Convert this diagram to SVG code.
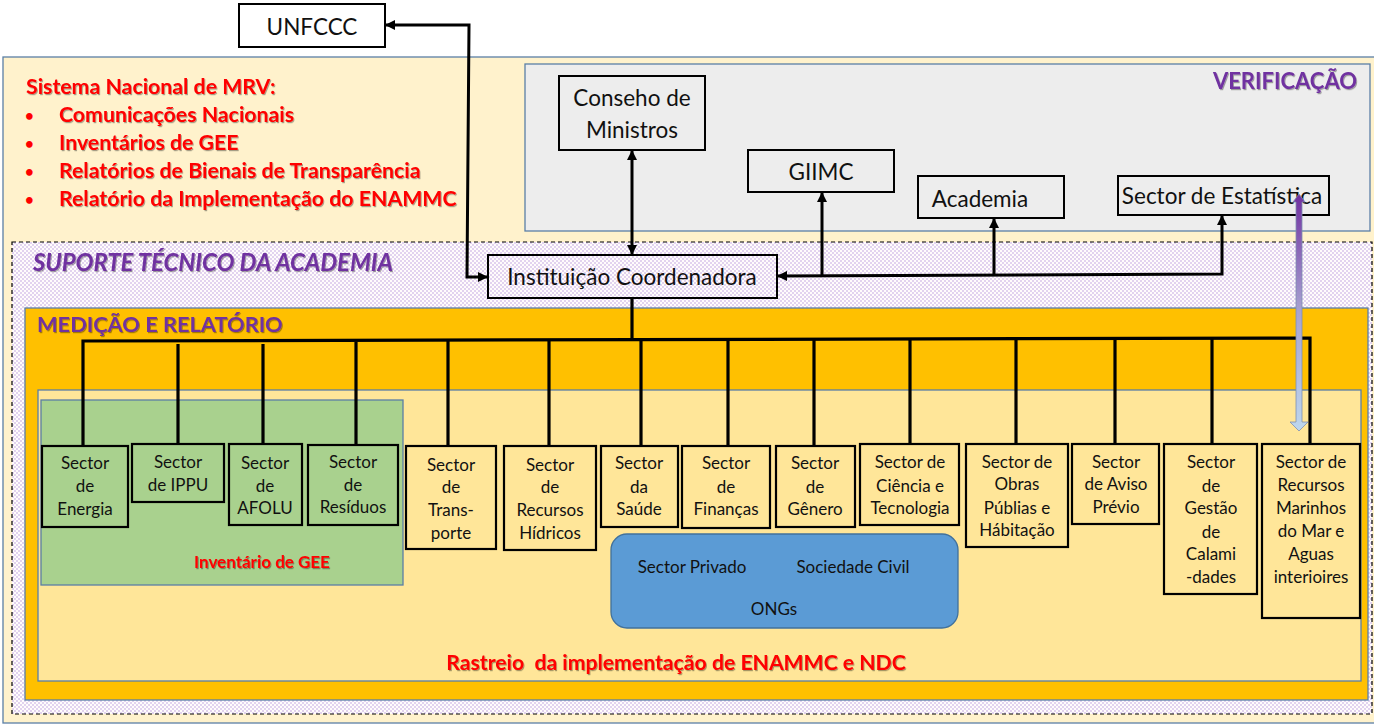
<svg xmlns="http://www.w3.org/2000/svg" width="1374" height="725" viewBox="0 0 1374 725">
<style>
text{font-family:Lato,"Liberation Sans",sans-serif;}
.hdr{font-weight:bold;font-size:21.3px;fill:#FF0000;filter:url(#sh);}
.bul{font-weight:bold;font-size:15px;fill:#FF0000;}
.purp{font-weight:bold;fill:#7030A0;filter:url(#sh);}
.box{fill:none;stroke:#000;stroke-width:2;}
.wbox{fill:#FFFFFF;stroke:#000;stroke-width:2;}
.top{font-size:22.5px;fill:#111;text-anchor:middle;}
.sec{fill:none;stroke:#000;stroke-width:2.2;}
.st{font-size:17px;fill:#111;text-anchor:middle;}
.panel{stroke:#5B7FA6;stroke-width:1.3;}
.con{fill:none;stroke:#000;stroke-width:3;}
.drop{fill:none;stroke:#000;stroke-width:3.2;}
.pv{font-size:17px;fill:#111;text-anchor:middle;}
</style>
<defs>
<pattern id="dots" width="4" height="4" patternUnits="userSpaceOnUse">
<rect width="4" height="4" fill="#FFFCFC"/>
<rect x="0.4" y="0.4" width="1.2" height="1.2" fill="#B08AD8"/>
<rect x="2.4" y="2.4" width="1.2" height="1.2" fill="#B08AD8"/>
</pattern>
<linearGradient id="pb" x1="0" y1="0" x2="0" y2="1">
<stop offset="0" stop-color="#7030A0"/>
<stop offset="0.5" stop-color="#A7A3D2"/>
<stop offset="1" stop-color="#BDD7EE"/>
</linearGradient>
<filter id="sh" x="-5%" y="-20%" width="110%" height="150%">
<feDropShadow dx="1" dy="1.2" stdDeviation="0.6" flood-color="#000" flood-opacity="0.35"/>
</filter>
<marker id="ah" viewBox="0 0 10 10" refX="10" refY="5" markerWidth="11" markerHeight="10" markerUnits="userSpaceOnUse" orient="auto-start-reverse">
<path d="M0,0 L10,5 L0,10 z" fill="#000"/>
</marker>
</defs>

<g id="backgrounds">
<rect x="3" y="57" width="1376" height="666" fill="#FFF2CC" class="panel"/>
<rect id="verificacao-panel" x="525" y="64" width="845" height="167" fill="#EDEDED" class="panel"/>
<rect id="suporte-band" x="12" y="242" width="1360" height="472" fill="url(#dots)" stroke="#000" stroke-width="1.2" stroke-dasharray="4 3"/>
<rect id="medicao-panel" x="25" y="308" width="1343" height="392" fill="#FFC000" class="panel"/>
<rect id="rastreio-panel" x="38" y="390" width="1323" height="291" fill="#FFE699" class="panel"/>
<rect id="inventario-panel" x="41" y="400" width="362" height="185" fill="#A9D18E" class="panel"/>
</g>

<g id="labels">
<text class="hdr" x="26" y="94">Sistema Nacional de MRV:</text>
<text class="bul" x="25" y="121">•</text><text class="hdr" x="59" y="122">Comunicações Nacionais</text>
<text class="bul" x="25" y="149">•</text><text class="hdr" x="59" y="150">Inventários de GEE</text>
<text class="bul" x="25" y="177">•</text><text class="hdr" x="59" y="178">Relatórios de Bienais de Transparência</text>
<text class="bul" x="25" y="205">•</text><text class="hdr" x="59" y="206">Relatório da Implementação do ENAMMC</text>
<text class="purp" x="1357" y="89" font-size="22" text-anchor="end">VERIFICAÇÃO</text>
<text class="purp" x="33" y="271" font-size="23.8" font-style="italic">SUPORTE TÉCNICO DA ACADEMIA</text>
<text class="purp" x="37" y="332" font-size="21.8">MEDIÇÃO E RELATÓRIO</text>
<text x="262" y="568" font-size="17" font-weight="bold" fill="#FF0000" text-anchor="middle" filter="url(#sh)">Inventário de GEE</text>
<text x="676" y="670" font-size="21.2" font-weight="bold" fill="#FF0000" text-anchor="middle" filter="url(#sh)" xml:space="preserve">Rastreio  da implementação de ENAMMC e NDC</text>
</g>

<g id="unfccc"><rect class="wbox" x="239" y="4" width="146" height="43"/><text class="top" x="312" y="35" font-size="22">UNFCCC</text></g>
<g id="conseho"><rect class="box" x="559" y="76" width="146" height="74"/><text class="top" x="632" y="106">Conseho de</text><text class="top" x="632" y="138">Ministros</text></g>
<g id="giimc"><rect class="box" x="748" y="150" width="146" height="42"/><text class="top" x="821" y="180">GIIMC</text></g>
<g id="academia"><rect class="box" x="918" y="176" width="146" height="42"/><text class="top" x="980" y="207">Academia</text></g>
<g id="estatistica"><rect class="box" x="1118" y="176" width="211" height="39"/><text class="top" x="1222" y="204" font-size="19.2">Sector de Estatística</text></g>
<g id="instituicao"><rect class="box" x="488" y="255" width="289" height="43"/><text class="top" x="632" y="285" font-size="23.5">Instituição Coordenadora</text></g>

<g id="energia"><rect class="sec" x="42" y="446" width="86" height="81"/><text class="st" x="85" y="469">Sector</text><text class="st" x="85" y="492">de</text><text class="st" x="85" y="515">Energia</text></g>
<g id="ippu"><rect class="sec" x="132" y="444" width="92" height="58"/><text class="st" x="178" y="468">Sector</text><text class="st" x="178" y="491">de IPPU</text></g>
<g id="afolu"><rect class="sec" x="229" y="444" width="73" height="81"/><text class="st" x="265" y="469">Sector</text><text class="st" x="265" y="492">de</text><text class="st" x="265" y="514">AFOLU</text></g>
<g id="residuos"><rect class="sec" x="308" y="445" width="90" height="80"/><text class="st" x="353" y="468">Sector</text><text class="st" x="353" y="491">de</text><text class="st" x="353" y="513">Resíduos</text></g>
<g id="transporte"><rect class="sec" x="406" y="446" width="90" height="103"/><text class="st" x="451" y="471">Sector</text><text class="st" x="451" y="493">de</text><text class="st" x="451" y="516">Trans-</text><text class="st" x="451" y="539">porte</text></g>
<g id="hidricos"><rect class="sec" x="504" y="446" width="92" height="104"/><text class="st" x="550" y="471">Sector</text><text class="st" x="550" y="493">de</text><text class="st" x="550" y="516">Recursos</text><text class="st" x="550" y="539">Hídricos</text></g>
<g id="saude"><rect class="sec" x="601" y="446" width="77" height="81"/><text class="st" x="639" y="469">Sector</text><text class="st" x="639" y="493">da</text><text class="st" x="639" y="515">Saúde</text></g>
<g id="financas"><rect class="sec" x="682" y="446" width="88" height="82"/><text class="st" x="726" y="469">Sector</text><text class="st" x="726" y="493">de</text><text class="st" x="726" y="515">Finanças</text></g>
<g id="genero"><rect class="sec" x="776" y="446" width="79" height="81"/><text class="st" x="815" y="469">Sector</text><text class="st" x="815" y="493">de</text><text class="st" x="815" y="515">Gênero</text></g>
<g id="ciencia"><rect class="sec" x="860" y="444" width="99" height="81"/><text class="st" x="910" y="468">Sector de</text><text class="st" x="910" y="492">Ciência e</text><text class="st" x="910" y="514">Tecnologia</text></g>
<g id="obras"><rect class="sec" x="966" y="444" width="102" height="103"/><text class="st" x="1017" y="468">Sector de</text><text class="st" x="1017" y="490">Obras</text><text class="st" x="1017" y="514">Públias e</text><text class="st" x="1017" y="536">Hábitação</text></g>
<g id="aviso"><rect class="sec" x="1072" y="444" width="87" height="80"/><text class="st" x="1116" y="468">Sector</text><text class="st" x="1116" y="490">de Aviso</text><text class="st" x="1116" y="513">Prévio</text></g>
<g id="gestao"><rect class="sec" x="1164" y="444" width="93" height="150"/><text class="st" x="1211" y="468">Sector</text><text class="st" x="1211" y="492">de</text><text class="st" x="1211" y="514">Gestão</text><text class="st" x="1211" y="538">de</text><text class="st" x="1211" y="560">Calami</text><text class="st" x="1211" y="583">-dades</text></g>
<g id="marinhos"><rect class="sec" x="1262" y="444" width="98" height="174"/><text class="st" x="1311" y="468">Sector de</text><text class="st" x="1311" y="491">Recursos</text><text class="st" x="1311" y="514">Marinhos</text><text class="st" x="1311" y="537">do Mar e</text><text class="st" x="1311" y="560">Aguas</text><text class="st" x="1311" y="583">interioires</text></g>

<g id="stakeholders"><rect x="611" y="534" width="347" height="94" rx="16" fill="#5B9BD5" stroke="#41719C" stroke-width="1.3"/><text class="pv" x="692" y="573">Sector Privado</text><text class="pv" x="853" y="573">Sociedade Civil</text><text class="pv" x="774" y="615">ONGs</text></g>

<g id="connectors">
<polyline class="con" points="385,25 469,25 467,277 488,277" marker-start="url(#ah)" marker-end="url(#ah)"/>
<line class="con" x1="632" y1="150" x2="632" y2="255" marker-start="url(#ah)" marker-end="url(#ah)"/>
<polyline class="con" points="777,276 1222,274 1222,215" marker-start="url(#ah)" marker-end="url(#ah)"/>
<line class="con" x1="822" y1="275" x2="822" y2="192" marker-end="url(#ah)"/>
<line class="con" x1="994" y1="275" x2="994" y2="218" marker-end="url(#ah)"/>
<line class="drop" x1="632" y1="298" x2="632" y2="341"/>
<polyline class="drop" points="83,446 83,341 1310,338 1310,444"/>
<line class="drop" x1="178" y1="344" x2="178" y2="444"/>
<line class="drop" x1="263" y1="344" x2="263" y2="444"/>
<line class="drop" x1="356" y1="342" x2="356" y2="444"/>
<line class="drop" x1="448" y1="341" x2="448" y2="446"/>
<line class="drop" x1="549" y1="341" x2="549" y2="446"/>
<line class="drop" x1="641" y1="341" x2="641" y2="446"/>
<line class="drop" x1="728" y1="340" x2="728" y2="446"/>
<line class="drop" x1="814" y1="340" x2="814" y2="446"/>
<line class="drop" x1="910" y1="340" x2="910" y2="444"/>
<line class="drop" x1="1016" y1="339" x2="1016" y2="444"/>
<line class="drop" x1="1115" y1="339" x2="1115" y2="444"/>
<line class="drop" x1="1212" y1="339" x2="1212" y2="444"/>
<polygon points="1299,194 1305,202 1302,202 1302,422 1308,422 1299,431 1290,422 1296,422 1296,202 1293,202" fill="url(#pb)" stroke="#7F8FB0" stroke-width="0.8"/>
</g>
</svg>
